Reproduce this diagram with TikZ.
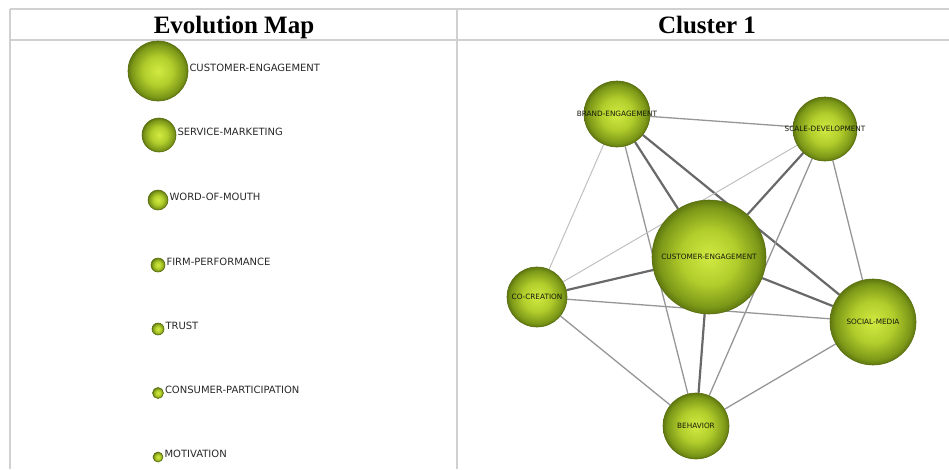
\documentclass[tikz,border=0pt]{standalone}
\usepackage{fontspec}
\setmainfont{Liberation Serif}
\newfontfamily\labelfont{DejaVu Sans}
\usetikzlibrary{positioning,backgrounds}

\definecolor{bubblelight}{RGB}{210,234,66}
\definecolor{bubblemid}{RGB}{178,206,44}
\definecolor{bubbledark}{RGB}{124,152,24}
\definecolor{bubbleedge}{RGB}{96,120,16}
\definecolor{bubblerim}{RGB}{88,110,14}
\definecolor{labeltext}{RGB}{40,40,40}
\definecolor{nettext}{RGB}{20,24,10}
\definecolor{gridgray}{RGB}{208,208,208}
\definecolor{edgedark}{RGB}{105,105,105}
\definecolor{edgemid}{RGB}{150,150,150}
\definecolor{edgelight}{RGB}{192,192,192}

\pgfdeclareradialshading{greenball}{\pgfpoint{0bp}{0bp}}{%
  color(0bp)=(bubblelight); color(12bp)=(bubblemid);
  color(22bp)=(bubbledark); color(25bp)=(bubbleedge); color(50bp)=(bubbleedge)}

\begin{document}
\begin{tikzpicture}[x=1pt, y=-1pt,
  bubble/.style={circle, inner sep=0pt, shading=greenball, draw=bubblerim, line width=0.6pt},
  maplabel/.style={inner sep=0pt, font=\labelfont\fontsize{10}{12}\selectfont, text=labeltext},
  netlabel/.style={inner sep=0pt, font=\labelfont\fontsize{7.3}{8}\selectfont, text=nettext},
  heading/.style={font=\bfseries\fontsize{25}{28}\selectfont, anchor=base},
  tableline/.style={draw=gridgray, line width=1.2pt},
  edgestrong/.style={draw=edgedark, line width=2.2pt},
  edgemedium/.style={draw=edgemid, line width=1.3pt},
  edgeweak/.style={draw=edgelight, line width=1pt}]
  \useasboundingbox (0,0) rectangle (949,469);
  % table frame
  \coordinate (tl) at (10,9);
  \coordinate (tr) at (949,9);
  \coordinate (hl) at (10,40);
  \coordinate (hr) at (949,40);
  \coordinate (bl) at (10,469);
  \coordinate (dt) at (457,9);
  \coordinate (db) at (457,469);
  \draw[tableline] (tl) -- (tr);
  \draw[tableline] (hl) -- (hr);
  \draw[tableline] (tl) -- (bl);
  \draw[tableline] (dt) -- (db);
  \node[heading] (evo) at (234,33) {Evolution Map};
  \node[heading] (clu) at (707,33) {Cluster 1};
  % evolution map
  \node[bubble, minimum size=60pt] (m1) at (158,71) {};
  \node[bubble, minimum size=34pt] (m2) at (159,135) {};
  \node[bubble, minimum size=20pt] (m3) at (158,200) {};
  \node[bubble, minimum size=14pt] (m4) at (158,265) {};
  \node[bubble, minimum size=12pt] (m5) at (158,329) {};
  \node[bubble, minimum size=11pt] (m6) at (158,393) {};
  \node[bubble, minimum size=10pt] (m7) at (158,457) {};
  \node[maplabel, right=1pt of m1, yshift=3.5pt] (t1) {CUSTOMER-ENGAGEMENT};
  \node[maplabel, right=1pt of m2, yshift=3.5pt] (t2) {SERVICE-MARKETING};
  \node[maplabel, right=1pt of m3, yshift=3.5pt] (t3) {WORD-OF-MOUTH};
  \node[maplabel, right=1pt of m4, yshift=3.5pt] (t4) {FIRM-PERFORMANCE};
  \node[maplabel, right=1pt of m5, yshift=3.5pt] (t5) {TRUST};
  \node[maplabel, right=1pt of m6, yshift=3.5pt] (t6) {CONSUMER-PARTICIPATION};
  \node[maplabel, right=1pt of m7, yshift=3.5pt] (t7) {MOTIVATION};
  % cluster network
  \node[bubble, minimum size=66pt, label={[netlabel]center:BRAND-ENGAGEMENT}] (brand) at (617,114) {};
  \node[bubble, minimum size=64pt, label={[netlabel]center:SCALE-DEVELOPMENT}] (scale) at (825,129) {};
  \node[bubble, minimum size=114pt, label={[netlabel]center:CUSTOMER-ENGAGEMENT}] (cust) at (709,257) {};
  \node[bubble, minimum size=60pt, label={[netlabel]center:CO-CREATION}] (cocr) at (537,297) {};
  \node[bubble, minimum size=86pt, label={[netlabel]center:SOCIAL-MEDIA}] (social) at (873,322) {};
  \node[bubble, minimum size=66pt, label={[netlabel]center:BEHAVIOR}] (behav) at (696,426) {};
  \begin{scope}[on background layer]
    \draw[edgestrong] (brand) -- (cust);
    \draw[edgestrong] (brand) -- (social);
    \draw[edgestrong] (scale) -- (cust);
    \draw[edgestrong] (cocr) -- (cust);
    \draw[edgestrong] (cust) -- (behav);
    \draw[edgestrong] (cust) -- (social);
    \draw[edgemedium] (brand) -- (scale);
    \draw[edgemedium] (brand) -- (behav);
    \draw[edgemedium] (scale) -- (behav);
    \draw[edgemedium] (scale) -- (social);
    \draw[edgemedium] (cocr) -- (social);
    \draw[edgemedium] (cocr) -- (behav);
    \draw[edgemedium] (social) -- (behav);
    \draw[edgeweak] (brand) -- (cocr);
    \draw[edgeweak] (scale) -- (cocr);
  \end{scope}
\end{tikzpicture}
\end{document}
